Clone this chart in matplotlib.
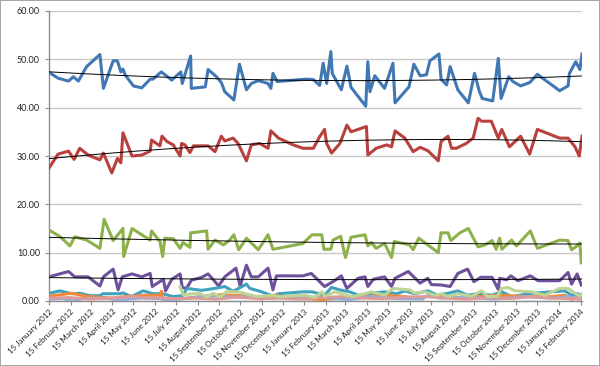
import numpy as np
import pandas as pd
import matplotlib
matplotlib.use('Agg')
import matplotlib.pyplot as plt
import matplotlib.dates as mdates

plt.rcParams['font.family'] = ['Lato', 'DejaVu Sans']

# all series are keyed on days since 15 January 2012
start = pd.Timestamp('2012-01-15')
last_day = 764

blue_days = [0, 13, 28, 35, 42, 54, 73, 78, 92, 98, 103, 106, 109, 121, 133, 145, 149, 161, 176, 189,
             191, 203, 204, 224, 228, 240, 247, 252, 265, 273, 283, 290, 300, 314, 318, 321, 327, 369, 379, 388,
             393, 398, 404, 406, 419, 427, 433, 454, 457, 460, 467, 481, 493, 496, 516, 523, 532, 541, 546, 559,
             562, 570, 575, 586, 601, 610, 617, 621, 636, 644, 648, 659, 665, 676, 689, 700, 732, 744, 746, 755,
             761, 764]
blue_vals = [47.3, 46.1, 45.5, 46.4, 45.5, 48.5, 51.0, 44.0, 49.7, 49.7, 47.4, 48.0, 46.8, 44.5, 44.1, 45.9, 45.9, 47.4, 45.7, 47.4,
             45.0, 50.7, 44.0, 44.3, 47.9, 46.4, 45.2, 43.3, 41.6, 49.0, 43.7, 45.0, 45.6, 45.0, 44.0, 47.1, 45.4, 45.9, 45.8, 44.6,
             49.2, 45.0, 51.6, 47.1, 43.7, 48.6, 44.2, 40.3, 49.5, 43.3, 46.6, 44.0, 49.2, 41.0, 44.3, 49.0, 46.6, 46.8, 49.7, 51.1,
             45.9, 44.7, 48.5, 43.7, 41.0, 47.1, 43.3, 41.9, 41.4, 50.2, 41.9, 46.4, 45.4, 44.5, 45.2, 46.9, 43.5, 44.5, 47.1, 49.5,
             47.9, 51.1]

red_days = [0, 13, 28, 36, 44, 56, 73, 78, 90, 98, 103, 106, 119, 133, 145, 147, 159, 162, 169, 178,
            188, 190, 195, 202, 207, 228, 238, 247, 252, 264, 271, 283, 290, 302, 314, 318, 329, 350, 364, 379,
            388, 395, 398, 405, 417, 427, 433, 455, 457, 469, 484, 491, 496, 510, 522, 532, 543, 558, 562, 572,
            577, 584, 598, 608, 615, 620, 634, 644, 649, 660, 676, 689, 700, 732, 744, 754, 760, 764]
red_vals = [27.5, 30.4, 31.0, 29.3, 31.6, 30.2, 29.2, 30.6, 26.5, 29.5, 28.6, 34.8, 30.0, 30.2, 31.0, 33.3, 32.1, 34.1, 33.0, 32.3,
            30.0, 32.6, 32.3, 30.7, 32.1, 32.1, 30.9, 34.1, 33.1, 33.7, 32.6, 29.0, 32.3, 32.6, 31.6, 35.2, 33.7, 32.3, 31.6, 31.6,
            34.0, 35.5, 32.6, 30.6, 32.6, 36.4, 35.0, 36.1, 30.2, 31.6, 32.3, 31.9, 35.2, 33.7, 30.9, 31.8, 31.1, 29.0, 33.0, 34.1,
            31.6, 31.6, 32.6, 33.7, 37.8, 37.2, 37.2, 33.7, 35.5, 31.9, 34.1, 30.4, 35.5, 33.7, 33.7, 31.9, 30.0, 34.1]

green_days = [0, 16, 30, 37, 54, 73, 79, 92, 106, 107, 119, 133, 145, 147, 159, 163, 166, 178, 188, 192,
              202, 203, 226, 228, 238, 250, 259, 265, 272, 283, 300, 314, 321, 364, 377, 391, 394, 404, 407, 418,
              425, 433, 453, 457, 462, 469, 481, 491, 495, 517, 522, 530, 543, 558, 562, 572, 576, 589, 601, 615,
              625, 635, 641, 646, 649, 663, 670, 690, 700, 732, 744, 749, 757, 761, 763]
green_vals = [14.7, 13.3, 11.4, 13.3, 12.6, 10.9, 16.9, 12.5, 15.0, 9.2, 15.0, 13.7, 12.6, 14.5, 12.3, 9.2, 13.0, 12.9, 10.9, 12.1,
              11.1, 14.1, 14.5, 10.7, 12.6, 11.6, 12.6, 13.7, 10.6, 13.0, 10.6, 13.7, 10.7, 11.9, 13.7, 13.7, 10.7, 10.7, 12.6, 13.4,
              9.0, 13.2, 13.7, 11.4, 12.1, 10.9, 11.9, 9.0, 12.3, 11.6, 10.6, 13.0, 11.6, 10.0, 14.1, 14.1, 12.5, 14.1, 15.0, 11.2,
              11.6, 12.5, 10.7, 13.0, 10.7, 12.6, 11.4, 14.5, 10.9, 12.6, 12.5, 10.6, 11.4, 12.0, 7.9]

purple_days = [0, 28, 37, 56, 73, 78, 92, 99, 105, 119, 133, 145, 148, 164, 167, 176, 188, 191, 197, 204,
               219, 228, 238, 243, 252, 268, 274, 283, 290, 300, 314, 321, 326, 364, 376, 395, 407, 419, 427, 443,
               453, 457, 465, 481, 491, 496, 515, 532, 543, 548, 563, 575, 586, 600, 609, 619, 635, 644, 646, 656,
               662, 672, 690, 701, 732, 744, 749, 757, 763]
purple_vals = [5.0, 6.1, 5.0, 5.0, 3.1, 5.0, 6.6, 2.3, 5.0, 5.6, 5.0, 5.7, 3.0, 4.5, 2.1, 4.5, 5.6, 2.8, 2.6, 4.3,
               4.9, 5.6, 4.0, 3.1, 5.0, 6.8, 3.1, 7.4, 5.0, 5.0, 6.8, 2.3, 5.2, 5.2, 5.7, 3.0, 4.0, 5.2, 2.6, 4.7,
               5.0, 3.0, 4.5, 5.0, 3.0, 4.7, 6.1, 3.7, 4.7, 3.4, 3.3, 3.0, 5.7, 6.6, 4.0, 4.9, 4.9, 2.4, 4.7, 4.4,
               5.2, 4.2, 5.2, 4.2, 4.2, 5.9, 3.5, 5.6, 3.3]

teal_days = [0, 16, 33, 44, 59, 73, 77, 102, 106, 118, 135, 149, 163, 178, 191, 198, 219, 242, 252, 264,
             283, 288, 305, 321, 329, 364, 377, 395, 405, 417, 431, 443, 457, 481, 499, 510, 524, 543, 557, 572,
             586, 600, 615, 635, 649, 663, 692, 721, 739, 749, 758, 764]
teal_vals = [1.6, 2.1, 1.5, 1.6, 1.1, 1.1, 1.5, 1.5, 1.7, 0.9, 2.1, 1.5, 1.5, 0.9, 1.1, 2.6, 2.2, 2.7, 3.0, 2.0,
             3.5, 2.6, 1.9, 1.0, 1.5, 1.9, 1.9, 1.2, 2.8, 2.3, 1.9, 1.2, 1.5, 1.9, 1.5, 2.1, 1.5, 2.1, 1.2, 1.6,
             2.1, 1.2, 1.5, 1.2, 1.9, 0.9, 1.6, 1.9, 2.1, 1.2, 1.5, 0.9]

orange_days = [0, 33, 52, 90, 109, 138, 159, 161, 163, 185, 219, 247, 262, 290, 305, 324, 342, 391, 453, 481,
               510, 529, 548, 572, 596, 615, 643, 672, 701, 721, 739, 749, 758, 764]
orange_vals = [1.0, 1.6, 1.0, 0.6, 0.9, 1.2, 1.2, 2.0, 0.6, 0.4, 0.9, 1.3, 1.2, 1.0, 0.4, 1.2, 0.7, 0.3, 0.9, 1.2,
               0.9, 0.5, 1.2, 0.9, 0.5, 0.9, 1.2, 1.0, 0.9, 0.9, 1.2, 0.3, 0.9, 0.6]

ltblue_days = [0, 20, 33, 50, 80, 100, 130, 160, 170, 200, 230, 260, 290, 320, 350, 380, 395, 430, 460, 500,
               535, 545, 560, 600, 640, 680, 720, 745, 764]
ltblue_vals = [0.4, 0.5, 0.0, 0.5, 0.6, 0.2, 0.6, 0.5, 0.1, 0.6, 1.1, 0.8, 0.9, 0.6, 1.0, 0.8, 0.7, 0.3, 0.9, 0.5,
               0.4, 1.3, 0.6, 0.8, 0.4, 0.9, 0.6, 0.9, 0.3]

pink_days = [0, 30, 60, 90, 120, 150, 180, 210, 240, 270, 300, 330, 360, 390, 420, 450, 480, 510, 540, 570,
             600, 630, 660, 690, 720, 750, 764]
pink_vals = [0.6, 0.7, 0.4, 0.6, 0.9, 0.7, 0.5, 0.6, 0.4, 0.8, 0.5, 0.6, 0.4, 0.7, 0.9, 0.6, 0.5, 0.8, 0.9, 0.6,
             0.4, 0.7, 0.5, 0.9, 0.6, 0.5, 0.4]

ltgreen_days = [188, 192, 216, 226, 235, 245, 255, 274, 290, 299, 321, 328, 367, 381, 391, 395, 410, 434, 453, 462,
                481, 493, 517, 524, 539, 553, 563, 572, 586, 606, 620, 629, 643, 648, 658, 668, 692, 711, 732, 744,
                754, 761, 764]
ltgreen_vals = [3.0, 1.3, 1.6, 0.8, 1.6, 0.8, 2.0, 1.8, 1.2, 0.9, 1.2, 0.9, 1.2, 0.7, 1.9, 1.0, 1.9, 0.9, 1.5, 1.9,
                1.2, 2.6, 2.3, 1.6, 1.9, 1.2, 1.5, 0.9, 1.5, 1.0, 2.1, 0.9, 1.0, 2.6, 2.8, 2.1, 1.9, 1.2, 2.6, 2.6,
                1.6, 1.0, 1.5]

series = [
    (blue_days, blue_vals, '#4178b4', True),
    (red_days, red_vals, '#b8413e', True),
    (green_days, green_vals, '#8db14a', True),
    (purple_days, purple_vals, '#6e519a', True),
    (teal_days, teal_vals, '#3fa2bf', False),
    (orange_days, orange_vals, '#f08a3a', False),
    (ltblue_days, ltblue_vals, '#8eaedc', False),
    (pink_days, pink_vals, '#de9a98', False),
    (ltgreen_days, ltgreen_vals, '#bcd494', False),
]


def to_dates(days):
    return start + pd.to_timedelta(np.array(days), unit='D')


fig = plt.figure(figsize=(6, 3.66), dpi=100)
fig.patch.set_edgecolor('#a6a6a6')
fig.patch.set_linewidth(1.2)
ax = fig.add_axes([49 / 600, 1 - 301 / 366, 533 / 600, 290 / 366])

for days, vals, col, trend in series:
    ax.plot(to_dates(days), vals, color=col, lw=2.2, solid_joinstyle='round', zorder=3)

# polynomial trendlines on the four big series
for days, vals, col, trend in series:
    if not trend:
        continue
    coef = np.polyfit(days, vals, 2)
    tx = np.linspace(0, last_day, 200)
    ax.plot(to_dates(tx), np.polyval(coef, tx), color='black', lw=0.7, zorder=4)

ax.set_ylim(0, 60)
ax.set_yticks(np.arange(0, 61, 10))
ax.yaxis.set_major_formatter(plt.FormatStrFormatter('%.2f'))
ax.set_xlim(start, start + pd.Timedelta(days=last_day))
ax.xaxis.set_major_locator(mdates.MonthLocator(bymonthday=15))
ax.xaxis.set_major_formatter(mdates.DateFormatter('%d %B %Y'))

ax.grid(axis='y', color='#c8c8c8', lw=1.0)
ax.set_axisbelow(True)
for s in ['top', 'right']:
    ax.spines[s].set_visible(False)
for s in ['left', 'bottom']:
    ax.spines[s].set_color('#8c8c8c')
    ax.spines[s].set_linewidth(1.0)
ax.tick_params(axis='y', labelsize=6.5, colors='#8c8c8c', labelcolor='#222222', length=3, width=0.8)
ax.tick_params(axis='x', labelsize=5.8, colors='#8c8c8c', labelcolor='#222222', length=3, width=0.8, pad=2)
plt.setp(ax.get_xticklabels(), rotation=45, ha='right', rotation_mode='anchor')

fig.savefig('out.png', dpi=100, edgecolor=fig.get_edgecolor())
